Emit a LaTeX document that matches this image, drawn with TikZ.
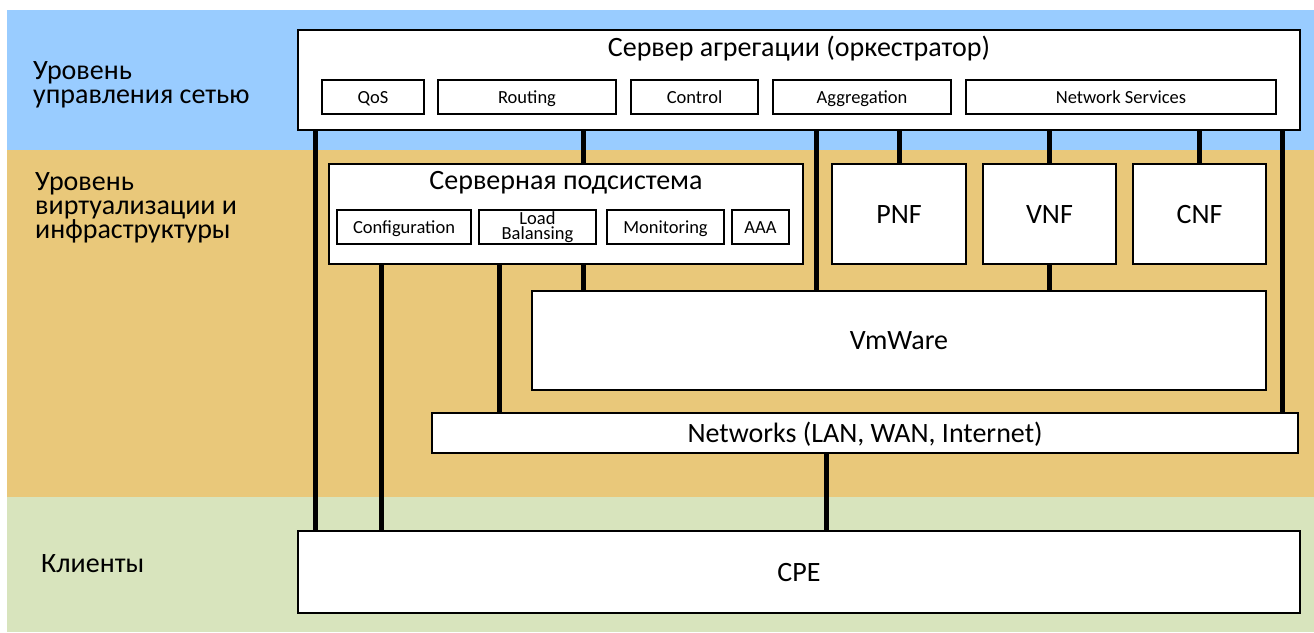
\documentclass[tikz,border=0pt]{standalone}
\usepackage{fontspec}
\setmainfont{Carlito}

\definecolor{mgmtblue}{RGB}{153,204,255}
\definecolor{infratan}{RGB}{233,200,122}
\definecolor{clientgreen}{RGB}{216,228,189}

\begin{document}
\begin{tikzpicture}[x=1pt, y=-1pt,
	box/.style={draw=black, line width=1.2pt, fill=white, inner sep=0pt},
	big/.style={box, font=\fontsize{28}{24}\selectfont, text height=18pt, text depth=0pt},
	small/.style={box, font=\fontsize{18.5}{15}\selectfont, text height=12pt, text depth=0pt, minimum height=34pt},
	title/.style={anchor=base, inner sep=0pt, font=\fontsize{28}{24}\selectfont},
	level/.style={align=left, inner sep=0pt, font=\fontsize{28}{24}\selectfont},
	link/.style={line width=5pt}]
	\useasboundingbox (0,0) rectangle (1314,632);
	% the three levels
	\fill[mgmtblue] (7,10) rectangle (1314,150);
	\fill[infratan] (7,150) rectangle (1314,497);
	\fill[clientgreen] (7,497) rectangle (1314,632);

	\node[level, anchor=west] (lvlmgmt) at (33,85) {Уровень\\управления сетью};
	\node[level, anchor=west] (lvlinfra) at (35,208) {Уровень\\виртуализации и\\инфраструктуры};
	\node[level, anchor=base west] (lvlclients) at (41,572) {Клиенты};

	% orchestrator
	\node[big, minimum width=1002pt, minimum height=100pt] (srv) at (799,80) {};
	\node[title] (srvtitle) at ([yshift=-27pt]srv.north) {Сервер агрегации (оркестратор)};
	\node[small, minimum width=102pt] (qos) at (373,97) {QoS};
	\node[small, minimum width=178pt] (routing) at (527,97) {Routing};
	\node[small, minimum width=127pt] (control) at (694.5,97) {Control};
	\node[small, minimum width=178pt] (aggr) at (862,97) {Aggregation};
	\node[small, minimum width=310pt] (netsrv) at (1121,97) {Network Services};

	% server subsystem
	\node[big, minimum width=474pt, minimum height=100pt] (sub) at (566,214) {};
	\node[title] (subtitle) at ([yshift=-26pt]sub.north) {Серверная подсистема};
	\node[small, minimum width=134pt] (config) at (404,227) {Configuration};
	\node[box, minimum width=117pt, minimum height=34pt, align=center, font=\fontsize{18.5}{15}\selectfont] (lb) at (537.5,227) {Load\\Balansing};
	\node[small, minimum width=117pt] (mon) at (665.5,227) {Monitoring};
	\node[small, minimum width=57pt] (aaa) at (760.5,227) {AAA};

	% network functions
	\node[big, minimum width=134pt, minimum height=100pt] (pnf) at (899,214) {PNF};
	\node[big, minimum width=133pt, minimum height=100pt] (vnf) at (1049.5,214) {VNF};
	\node[big, minimum width=133pt, minimum height=100pt] (cnf) at (1199.5,214) {CNF};

	\node[big, minimum width=734pt, minimum height=99pt] (vmw) at (899,340.5) {VmWare};
	\node[big, minimum width=866pt, minimum height=40pt] (net) at (865,433) {Networks (LAN, WAN, Internet)};
	\node[big, minimum width=1002pt, minimum height=82pt] (cpe) at (799,572) {CPE};

	% links
	\coordinate (tap1) at (315,0);
	\coordinate (tap2) at (381,0);
	\coordinate (tap3) at (499,0);
	\coordinate (tap4) at (583,0);
	\coordinate (tap5) at (816,0);
	\coordinate (tap6) at (1282,0);
	\coordinate (tap7) at (826,0);

	\draw[link] (srv.south -| tap1) -- (cpe.north -| tap1);
	\draw[link] (sub.south -| tap2) -- (cpe.north -| tap2);
	\draw[link] (sub.south -| tap3) -- (net.north -| tap3);
	\draw[link] (srv.south -| tap4) -- (sub.north -| tap4);
	\draw[link] (sub.south -| tap4) -- (vmw.north -| tap4);
	\draw[link] (srv.south -| tap5) -- (vmw.north -| tap5);
	\foreach \f in {pnf,vnf,cnf}
		\draw[link] (srv.south -| \f) -- (\f.north);
	\draw[link] (vnf.south) -- (vmw.north -| vnf);
	\draw[link] (srv.south -| tap6) -- (net.north -| tap6);
	\draw[link] (net.south -| tap7) -- (cpe.north -| tap7);
\end{tikzpicture}
\end{document}
